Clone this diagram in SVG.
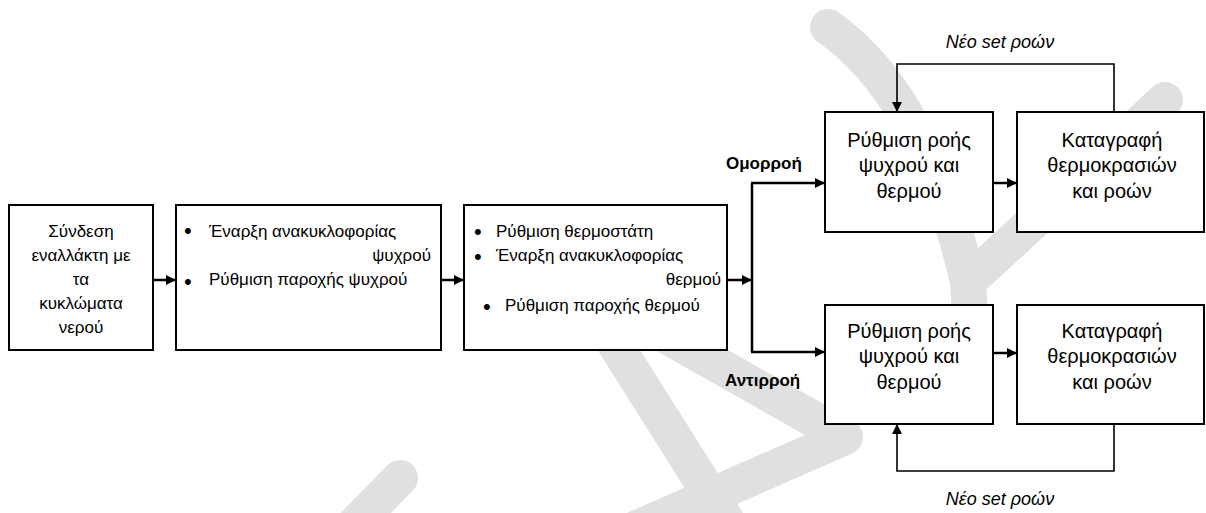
<svg xmlns="http://www.w3.org/2000/svg" width="1206" height="513" viewBox="0 0 1206 513">
<style>
.box{fill:#fff;stroke:#000;stroke-width:2}
.t{font-family:"Liberation Sans",Arial,sans-serif;fill:#000}
.l{font-size:17px}
.r{font-size:20px}
.b{font-size:22px}
.c{text-anchor:middle}
.e{text-anchor:end}
.lab{font-size:17px;font-weight:bold}
.it{font-size:18px;font-style:italic}
.con{fill:none;stroke:#000;stroke-width:2.5}
.loop{fill:none;stroke:#000;stroke-width:1.6}
.wm{fill:none;stroke:#e0e0e0;stroke-width:36;stroke-linecap:round;stroke-linejoin:round}
</style>
<defs>
<marker id="ah" markerUnits="userSpaceOnUse" markerWidth="10" markerHeight="10" refX="10" refY="5" orient="auto">
<path d="M0,0 L10,5 L0,10 z" fill="#000"/>
</marker>
</defs>
<rect width="1206" height="513" fill="#fff"/>
<g id="watermark">
<path class="wm" d="M828,27 Q925,95 968,282 L1165,100"/>
<path class="wm" d="M968,282 L975,400"/>
<path class="wm" d="M665,335 L845,437 L610,540"/>
<path class="wm" d="M540,225 L745,550"/>
<path class="wm" d="M400,478 L320,560"/>
</g>
<g id="connectors">
<path class="con" d="M153,280 H176" marker-end="url(#ah)"/>
<path class="con" d="M441,280 H464" marker-end="url(#ah)"/>
<path class="con" d="M727,280 H752" marker-end="url(#ah)"/>
<path class="con" d="M752,183 V352"/>
<path class="con" d="M751,183 H825" marker-end="url(#ah)"/>
<path class="con" d="M751,352 H825" marker-end="url(#ah)"/>
<path class="con" d="M993,183 H1017" marker-end="url(#ah)"/>
<path class="con" d="M993,353 H1017" marker-end="url(#ah)"/>
<path class="loop" d="M1114,112 V64 H897 V112" marker-end="url(#ah)"/>
<path class="loop" d="M1114,424 V471 H897 V424" marker-end="url(#ah)"/>
</g>
<g id="node1">
<rect class="box" x="9" y="205" width="144" height="145"/>
<text class="t l c" x="81" y="237">Σύνδεση</text>
<text class="t l c" x="81" y="261">εναλλάκτη με</text>
<text class="t l c" x="81" y="285">τα</text>
<text class="t l c" x="81" y="309">κυκλώματα</text>
<text class="t l c" x="81" y="333">νερού</text>
</g>
<g id="node2">
<rect class="box" x="176" y="205" width="265" height="145"/>
<text class="t b" x="184" y="238">•</text>
<text class="t l" x="209" y="237">Έναρξη ανακυκλοφορίας</text>
<text class="t l e" x="431" y="261">ψυχρού</text>
<text class="t b" x="184" y="289">•</text>
<text class="t l" x="209" y="285">Ρύθμιση παροχής ψυχρού</text>
</g>
<g id="node3">
<rect class="box" x="464" y="205" width="263" height="145"/>
<text class="t b" x="474" y="239">•</text>
<text class="t l" x="496" y="237">Ρύθμιση θερμοστάτη</text>
<text class="t b" x="474" y="264">•</text>
<text class="t l" x="496" y="261">Έναρξη ανακυκλοφορίας</text>
<text class="t l e" x="721" y="285">θερμού</text>
<text class="t b" x="483" y="314">•</text>
<text class="t l" x="505" y="311">Ρύθμιση παροχής θερμού</text>
</g>
<g id="label-omorroi">
<text class="t lab" x="726" y="169">Ομορροή</text>
</g>
<g id="label-antirroi">
<text class="t lab" x="725" y="386">Αντιρροή</text>
</g>
<g id="node4">
<rect class="box" x="825" y="112" width="168" height="120"/>
<text class="t r c" x="909" y="147">Ρύθμιση ροής</text>
<text class="t r c" x="909" y="172">ψυχρού και</text>
<text class="t r c" x="909" y="198">θερμού</text>
</g>
<g id="node5">
<rect class="box" x="1017" y="112" width="187" height="120"/>
<text class="t r c" x="1112" y="147">Καταγραφή</text>
<text class="t r c" x="1112" y="172">θερμοκρασιών</text>
<text class="t r c" x="1112" y="198">και ροών</text>
</g>
<g id="node6">
<rect class="box" x="825" y="305" width="168" height="119"/>
<text class="t r c" x="909" y="338">Ρύθμιση ροής</text>
<text class="t r c" x="909" y="363">ψυχρού και</text>
<text class="t r c" x="909" y="389">θερμού</text>
</g>
<g id="node7">
<rect class="box" x="1017" y="305" width="187" height="119"/>
<text class="t r c" x="1112" y="338">Καταγραφή</text>
<text class="t r c" x="1112" y="363">θερμοκρασιών</text>
<text class="t r c" x="1112" y="389">και ροών</text>
</g>
<g id="label-loop-top">
<text class="t it c" x="1000" y="48">Νέο set ροών</text>
</g>
<g id="label-loop-bottom">
<text class="t it c" x="1000" y="505">Νέο set ροών</text>
</g>
</svg>
